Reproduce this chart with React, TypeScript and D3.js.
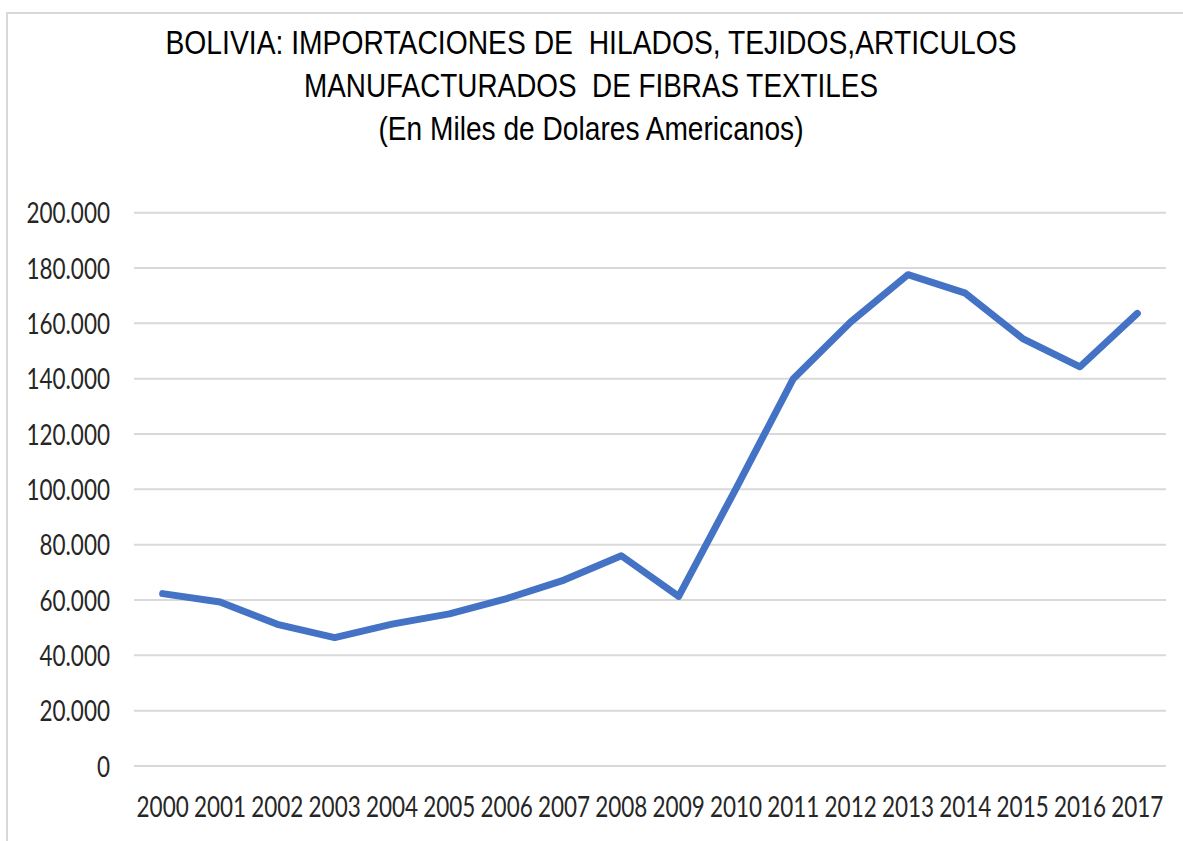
import React from "react";
import * as d3 from "d3";

const years = ["2000","2001","2002","2003","2004","2005","2006","2007","2008","2009","2010","2011","2012","2013","2014","2015","2016","2017"];
const values = [62.3, 59.3, 51.2, 46.4, 51.3, 55.0, 60.5, 67.2, 76.0, 61.3, 100.3, 140.0, 160.5, 177.6, 170.9, 154.5, 144.3, 163.6];
const yTicks = [0, 20, 40, 60, 80, 100, 120, 140, 160, 180, 200];
const titleLines = [
  "BOLIVIA: IMPORTACIONES DE  HILADOS, TEJIDOS,ARTICULOS",
  "MANUFACTURADOS  DE FIBRAS TEXTILES",
  "(En Miles de Dolares Americanos)",
];
const titleWidths = [851, 574, 425];

const W = 1183;
const H = 841;
const plotLeft = 134;
const plotRight = 1166;
const plotTop = 212.7;
const plotBottom = 766;

export default function App() {
  const x = d3.scalePoint<string>().domain(years).range([plotLeft, plotRight]).padding(0.5);
  const y = d3.scaleLinear().domain([0, 200]).range([plotBottom, plotTop]);
  const line = d3
    .line<number>()
    .x((_, i) => x(years[i]) as number)
    .y((d) => y(d));
  const fmt = (v: number) => (v === 0 ? "0" : `${v}.000`);
  const labelFont = "Lato, 'Open Sans', sans-serif";

  return (
    <svg width={W} height={H} style={{ position: "absolute", left: 0, top: 0, background: "#fff" }}>
      <rect x={7} y={13} width={W + 20} height={H + 20} fill="#fff" stroke="#d9d9d9" strokeWidth={2} />
      {titleLines.map((t, i) => (
        <text
          key={i}
          transform={`translate(591,${54 + i * 43}) scale(1,1.15)`}
          textAnchor="middle"
          fontFamily="'Liberation Sans', Arial, sans-serif"
          fontSize={29}
          textLength={titleWidths[i]}
          lengthAdjust="spacingAndGlyphs"
          fill="#000"
          style={{ whiteSpace: "pre" }}
        >
          {t}
        </text>
      ))}
      {yTicks.map((t) => (
        <line key={t} x1={plotLeft} x2={plotRight} y1={y(t)} y2={y(t)} stroke="#d9d9d9" strokeWidth={2} />
      ))}
      {yTicks.map((t) => (
        <text
          key={"l" + t}
          transform={`translate(110,${y(t) + 10.6}) scale(1,1.25)`}
          textAnchor="end"
          fontFamily={labelFont}
          fontSize={22.5}
          fill="#262626"
        >
          {fmt(t)}
        </text>
      ))}
      {years.map((yr) => (
        <text
          key={yr}
          transform={`translate(${x(yr)},817.3) scale(1,1.25)`}
          textAnchor="middle"
          fontFamily={labelFont}
          fontSize={22.5}
          fill="#262626"
        >
          {yr}
        </text>
      ))}
      <path
        d={line(values) || ""}
        fill="none"
        stroke="#4472C4"
        strokeWidth={7}
        strokeLinejoin="round"
        strokeLinecap="round"
      />
    </svg>
  );
}
